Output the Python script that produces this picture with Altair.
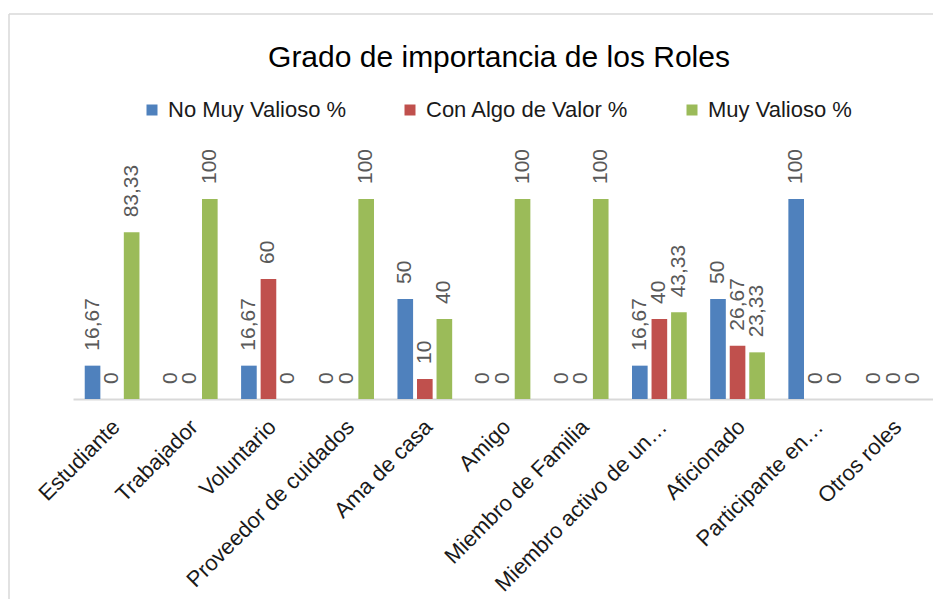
import altair as alt
import pandas as pd

categories = ["Estudiante", "Trabajador", "Voluntario", "Proveedor de cuidados",
              "Ama de casa", "Amigo", "Miembro de Familia", "Miembro activo de un…",
              "Aficionado", "Participante en…", "Otros roles"]
series = ["No Muy Valioso %", "Con Algo de Valor %", "Muy Valioso %"]
no_muy_valioso = [16.67, 0, 16.67, 0, 50, 0, 0, 16.67, 50, 100, 0]
con_algo_valor = [0, 0, 60, 0, 10, 0, 0, 40, 26.67, 0, 0]
muy_valioso = [83.33, 100, 0, 100, 40, 100, 100, 43.33, 23.33, 0, 0]
colors = ["#4F81BD", "#C0504D", "#9BBB59"]

rows = []
for s, vals in zip(series, [no_muy_valioso, con_algo_valor, muy_valioso]):
    for c, v in zip(categories, vals):
        rows.append({"Rol": c, "Serie": s, "Valor": v,
                     "Etiqueta": f"{v:g}".replace(".", ",")})
df = pd.DataFrame(rows)

FONT = "Liberation Sans"

x_enc = alt.X("Rol:N", sort=categories,
              scale=alt.Scale(paddingInner=0.3, paddingOuter=0.15),
              axis=alt.Axis(title=None, labelAngle=315, labelAlign="right",
                            labelBaseline="middle", labelFontSize=22, labelFont=FONT,
                            labelColor="#1a1a1a", labelPadding=24, labelOffset=4,
                            labelLimit=400, ticks=False, domainColor="#D9D9D9",
                            domainWidth=2, grid=False))
xo_enc = alt.XOffset("Serie:N", sort=series,
                     scale=alt.Scale(paddingInner=0.2, paddingOuter=0))
y_enc = alt.Y("Valor:Q", scale=alt.Scale(domain=[0, 130]), axis=None)

base = alt.Chart(df)

bars = base.mark_bar().encode(
    x=x_enc, xOffset=xo_enc, y=y_enc,
    color=alt.Color("Serie:N", sort=series,
                    scale=alt.Scale(domain=series, range=colors),
                    legend=alt.Legend(title=None, orient="none", legendX=68, legendY=-40,
                                      direction="horizontal", symbolType="square",
                                      symbolSize=121, symbolStrokeWidth=0,
                                      labelFontSize=22, labelFont=FONT,
                                      labelColor="#1a1a1a", labelLimit=400,
                                      columnPadding=52, labelOffset=5)),
)

labels = base.mark_text(angle=270, align="left", baseline="middle", dx=15,
                        fontSize=21, font=FONT, color="#595959").encode(
    x=x_enc, xOffset=xo_enc, y=y_enc, text="Etiqueta:N"
)

frame = alt.Chart(alt.Data(values=[{"k": 1}])).mark_rule(
    color="#D9D9D9", strokeWidth=1.5).encode(
    x=alt.value(-64), y=alt.value(-125), y2=alt.value(470)
)
frame_top = alt.Chart(alt.Data(values=[{"k": 1}])).mark_rule(
    color="#D9D9D9", strokeWidth=1.5).encode(
    x=alt.value(-64), x2=alt.value(880), y=alt.value(-125)
)

chart = alt.layer(frame, frame_top, bars, labels).properties(
    width=860, height=260,
    title=alt.Title("Grado de importancia de los Roles", fontSize=30, font=FONT,
                    fontWeight="normal", color="#000000", anchor="middle",
                    offset=23, dy=83, dx=-4),
    autosize=alt.AutoSizeParams(type="none"),
    padding={"left": 65, "top": 131, "right": 0, "bottom": 200},
).configure_view(stroke=None)

chart.save("out.html", embed_options={"renderer": "svg", "actions": False})
